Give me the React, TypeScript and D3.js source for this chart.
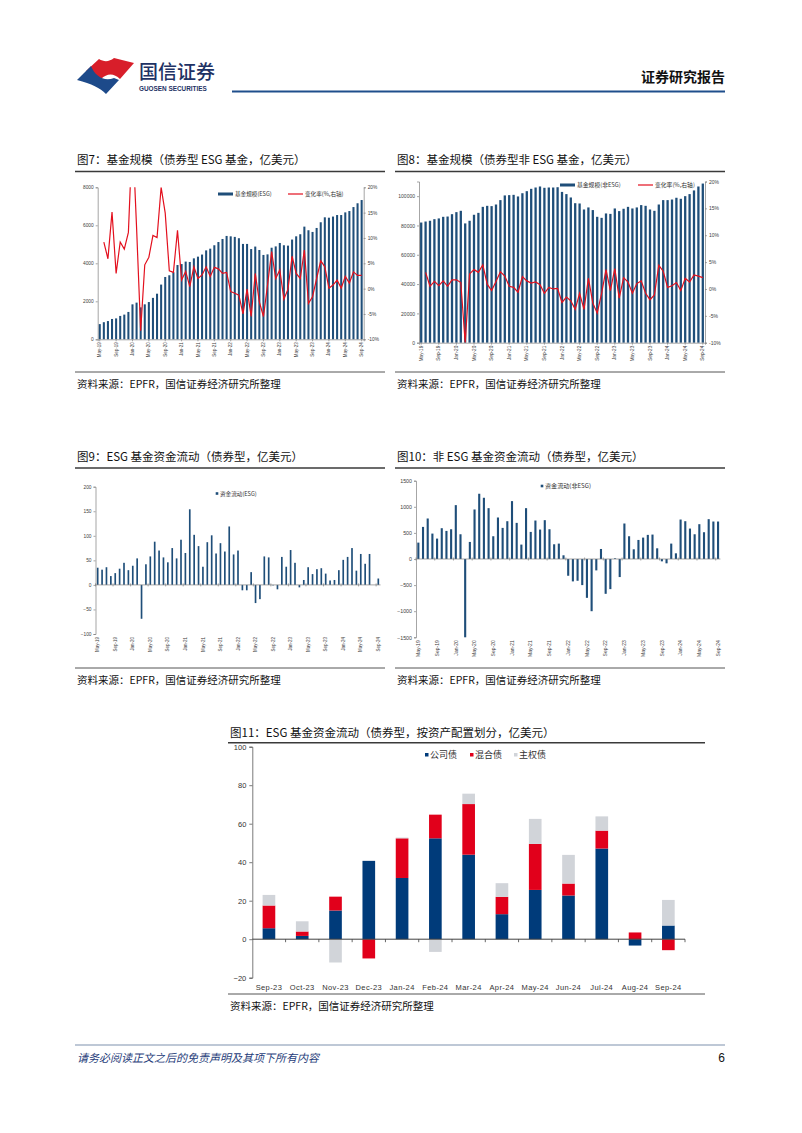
import React, { useEffect, useRef } from "react";
import * as d3 from "d3";

const CJK = "'Noto Sans CJK SC', 'Noto Sans', sans-serif";
const LAT = "'Liberation Sans', Arial, sans-serif";
const BLUE = "#1f4e79";
const RED = "#e3101e";

// months May-19 .. Sep-24
const months = d3.timeMonths(new Date(2019, 4, 1), new Date(2024, 9, 1)).map(d3.timeFormat("%b-%y"));
const tickMonths = months.filter((d, i) => i % 4 === 0);

// fig 7: ESG bond fund size (USD 100m) and change (%)
const esgSize = [
  800, 900, 960, 1070, 1100, 1230, 1300, 1440, 1840, 1930,
  1680, 1840, 1960, 2180, 2400, 2880, 3280, 3370, 3530, 3910,
  3960, 4090, 4070, 4260, 4350, 4460, 4680, 4770, 4950, 5120,
  5280, 5440, 5420, 5390, 5320, 5020, 5020, 4750, 4880, 4700,
  4440, 4470, 4820, 4890, 5070, 4950, 4930, 5250, 5420, 5530,
  5930, 5740, 5650, 5860, 6160, 6420, 6400, 6460, 6540, 6540,
  6680, 6750, 6960, 7160, 7330,
];
const esgChange = [
  null, 9.2, 5.9, 15.1, 3.0, 9.2, 7.8, 11.1, 31, 12,
  -8.3, 4.7, 6.2, 10.5, 10.1, 20, 14.9, 3.5, 3.2, 11.5,
  1.7, 3.4, 0.4, 4.3, 2.0, 2.7, 4.3, 2.4, 4.2, 3.9,
  3.0, 3.2, -0.6, -0.9, -1.3, -5.0, -0.1, -5.5, 3.0, -2.6,
  -5.5, 0.7, 7.3, 2.0, 3.7, -2.1, -0.1, 6.4, 3.0, 2.0,
  7.6, -2.9, -1.6, 2.0, 5.5, 4.3, 0.1, 0.7, 1.7, 0.1,
  2.4, 1.1, 3.3, 2.6, 2.6,
];

// fig 8: non-ESG bond fund size and change
const nonEsgSize = [
  82000, 82700, 83200, 84300, 84800, 85900, 86100, 87700, 89100, 90000,
  81400, 83200, 87300, 88600, 92700, 93400, 93200, 94300, 97300, 100500,
  100700, 100900, 99800, 102000, 103400, 105000, 105900, 106600, 105700, 105900,
  105900, 106100, 102900, 101400, 99100, 95200, 95000, 90900, 92300, 90500,
  85900, 85200, 88200, 87900, 91600, 89800, 91400, 92700, 91600, 92300,
  93900, 93400, 90900, 90000, 94300, 97300, 97300, 97700, 98900, 98200,
  100000, 101400, 103900, 106600, 108600,
];
const nonEsgChange = [
  null, 3.1, 0.5, 1.4, 0.6, 1.5, 0.5, 1.7, 1.7, 1.2,
  -10, 2.8, 3.6, 3.1, 4.5, 0.9, -0.3, 1.4, 3.2, 2.4,
  0.5, 0.3, -0.6, 2.3, 1.5, 1.1, 1.3, 0.8, -0.8, 0.3,
  0, 0.1, -2.5, -1.5, -2.2, -3.8, -0.8, -3.8, 2.0, -2.6,
  -4.5, -0.8, 3.6, -0.3, 3.8, -1.7, 2.1, 1.3, -0.8, 1.0,
  1.5, -0.8, -2.0, -1.1, 4.4, 3.3, 0.3, 0.6, 1.2, -0.3,
  2.0, 1.3, 2.6, 2.4, 2.1,
];

// fig 9 / 10: flows
const esgFlow = [
  35, 31, 36, 18, 24, 33, 45, 30, 39, 54,
  -69, 42, 58, 88, 70, 56, 46, 75, 54, 92,
  65, 154, 102, 79, 37, 87, 101, 64, 85, 68,
  119, 62, 70, -11, -11, 26, -37, -29, 58, 56,
  -1, -9, 57, 37, 71, 45, -5, 10, 36, 22,
  32, 34, 23, 9, 10, 30, 51, 57, 75, 29,
  63, 43, 63, 0, 13,
];
const nonEsgFlow = [
  314, 615, 776, 487, 391, 590, 538, 570, 1032, 474,
  -1500, 327, 949, 1250, 1173, 974, 436, 795, 596, 724,
  1109, 692, 276, 974, 519, 737, 564, 744, 570, 282,
  295, 71, -321, -429, -417, -500, -744, -1000, -218, 192,
  -667, -577, 13, -346, 680, 436, 186, 365, 410, 462,
  468, 205, -45, -83, 295, 109, 756, 724, 583, 474,
  667, 513, 763, 718, 718,
];

// fig 11: ESG flows by asset allocation
const cats11 = ["Sep-23", "Oct-23", "Nov-23", "Dec-23", "Jan-24", "Feb-24", "Mar-24", "Apr-24", "May-24", "Jun-24", "Jul-24", "Aug-24", "Sep-24"];
const corp = [5.7, 1.7, 14.9, 40.7, 31.8, 52.4, 43.9, 13, 25.6, 22.7, 47.1, -3.3, 7.1];
const mixed = [11.8, 2.3, 7.2, -10, 20.6, 12.3, 26.3, 9, 23.9, 6.2, 9.3, 3.5, -5.7];
const sov = [5.5, 5.3, -12.1, 0, 0.4, -6.6, 5.4, 7.1, 13, 14.9, 7.4, 0, 13.3];
const keys11 = ["公司债", "混合债", "主权债"];
const colors11 = ["#003b7a", "#e1001b", "#d1d4d9"];

function styleAxis(g, fs, color = "#404040") {
  g.select(".domain").attr("stroke", "#808080").attr("stroke-width", 0.7);
  g.selectAll(".tick line").attr("stroke", "#808080").attr("stroke-width", 0.7);
  g.selectAll(".tick text").attr("font-size", fs).attr("font-family", LAT).attr("fill", color);
}

function rotateLabels(g) {
  g.selectAll(".tick text")
    .attr("transform", "rotate(-90)")
    .attr("text-anchor", "end")
    .attr("x", -3)
    .attr("y", 0)
    .attr("dy", "0.35em");
}

function frame(svg, x1, x2, titleY, topLine, bottomLine, title) {
  svg.append("text").attr("x", x1 + 2).attr("y", titleY).attr("font-family", CJK)
    .attr("font-size", 11.5).attr("font-weight", 400).attr("fill", "#111").text(title);
  svg.append("line").attr("x1", x1).attr("x2", x2).attr("y1", topLine).attr("y2", topLine)
    .attr("stroke", "#3a3a3a").attr("stroke-width", 1.5);
  svg.append("line").attr("x1", x1).attr("x2", x2).attr("y1", bottomLine).attr("y2", bottomLine)
    .attr("stroke", "#555").attr("stroke-width", 1);
  svg.append("text").attr("x", x1 + 2).attr("y", bottomLine + 16).attr("font-family", CJK)
    .attr("font-size", 10.5).attr("fill", "#111").text("资料来源：EPFR，国信证券经济研究所整理");
}

function drawCombo(svg, o) {
  const x = d3.scaleBand().domain(months).range([o.left, o.right]).paddingInner(o.pad).paddingOuter(o.pad / 2);
  const yL = d3.scaleLinear().domain([0, o.max]).range([o.bottom, o.top]);
  const yR = d3.scaleLinear().domain([-10, 20]).range([o.bottom, o.top]);
  const g = svg.append("g");

  g.append("clipPath").attr("id", o.id).append("rect")
    .attr("x", o.left).attr("y", o.top).attr("width", o.right - o.left).attr("height", o.bottom - o.top);

  g.selectAll("rect.bar").data(o.size).join("rect").attr("class", "bar")
    .attr("x", (d, i) => x(months[i]))
    .attr("width", x.bandwidth())
    .attr("y", d => yL(d))
    .attr("height", d => yL(0) - yL(d))
    .attr("fill", BLUE);

  const line = d3.line()
    .defined(d => d != null)
    .x((d, i) => x(months[i]) + x.bandwidth() / 2)
    .y(d => yR(d));
  g.append("path").datum(o.change).attr("d", line).attr("fill", "none")
    .attr("stroke", RED).attr("stroke-width", 1.2).attr("clip-path", `url(#${o.id})`);

  const ax = g.append("g").attr("transform", `translate(${o.left},0)`)
    .call(d3.axisLeft(yL).tickValues(o.ticks).tickSize(2).tickPadding(2).tickFormat(d3.format("d")));
  styleAxis(ax, o.fs);
  const ar = g.append("g").attr("transform", `translate(${o.right},0)`)
    .call(d3.axisRight(yR).tickValues([-10, -5, 0, 5, 10, 15, 20]).tickSize(2).tickPadding(2).tickFormat(d => d + "%"));
  styleAxis(ar, o.fs);
  const ab = g.append("g").attr("transform", `translate(0,${o.bottom})`)
    .call(d3.axisBottom(x).tickValues(tickMonths).tickSize(2));
  styleAxis(ab, o.fs - 0.3);
  rotateLabels(ab);

  // legend
  g.append("rect").attr("x", o.lgX).attr("y", o.lgY - 1.5).attr("width", 15).attr("height", 3).attr("fill", BLUE);
  g.append("text").attr("x", o.lgX + 17).attr("y", o.lgY + 2).attr("font-size", o.fs + 0.8)
    .attr("font-family", CJK).attr("fill", "#333").text(o.lg1);
  g.append("line").attr("x1", o.lgX2).attr("x2", o.lgX2 + 15).attr("y1", o.lgY).attr("y2", o.lgY)
    .attr("stroke", RED).attr("stroke-width", 1.2);
  g.append("text").attr("x", o.lgX2 + 17).attr("y", o.lgY + 2).attr("font-size", o.fs + 0.8)
    .attr("font-family", CJK).attr("fill", "#333").text("变化率(%,右轴)");
}

function drawFlow(svg, o) {
  const x = d3.scaleBand().domain(months).range([o.left, o.right]).paddingInner(o.pad).paddingOuter(o.pad / 2);
  const y = d3.scaleLinear().domain([o.min, o.max]).range([o.bottom, o.top]);
  const g = svg.append("g");

  g.selectAll("rect.bar").data(o.values).join("rect").attr("class", "bar")
    .attr("x", (d, i) => x(months[i]))
    .attr("width", x.bandwidth())
    .attr("y", d => y(Math.max(0, d)))
    .attr("height", d => Math.abs(y(d) - y(0)))
    .attr("fill", BLUE);

  g.append("line").attr("x1", o.left).attr("x2", o.right).attr("y1", y(0)).attr("y2", y(0))
    .attr("stroke", "#808080").attr("stroke-width", 0.7);
  g.selectAll("line.zt").data(tickMonths).join("line").attr("class", "zt")
    .attr("x1", d => x(d) - x.step() * o.pad / 2).attr("x2", d => x(d) - x.step() * o.pad / 2)
    .attr("y1", y(0) - 1.5).attr("y2", y(0) + 1.5).attr("stroke", "#808080").attr("stroke-width", 0.7);

  const ax = g.append("g").attr("transform", `translate(${o.left},0)`)
    .call(d3.axisLeft(y).tickValues(o.ticks).tickSize(2).tickPadding(2).tickFormat(d3.format("d")));
  styleAxis(ax, o.fs);
  const ab = g.append("g").attr("transform", `translate(0,${o.bottom})`)
    .call(d3.axisBottom(x).tickValues(tickMonths).tickSize(0));
  styleAxis(ab, o.fs - 0.3);
  ab.select(".domain").remove();
  rotateLabels(ab);

  g.append("rect").attr("x", o.lgX - 1.3).attr("y", o.lgY - 1.3).attr("width", 2.6).attr("height", 2.6).attr("fill", BLUE);
  g.append("text").attr("x", o.lgX + 3).attr("y", o.lgY + 2).attr("font-size", o.fs + 0.8)
    .attr("font-family", CJK).attr("fill", "#333").text(o.lg);
}

function drawStacked(svg) {
  const left = 252.3, right = 685, top = 746.7, bottom = 977.7;
  const x = d3.scaleBand().domain(cats11).range([left, right]).paddingInner(0.62).paddingOuter(0.31);
  const y = d3.scaleLinear().domain([-20, 100]).range([bottom, top]);
  const rows = cats11.map((c, i) => ({ cat: c, 公司债: corp[i], 混合债: mixed[i], 主权债: sov[i] }));
  const series = d3.stack().keys(keys11).offset(d3.stackOffsetDiverging)(rows);
  const g = svg.append("g");

  g.selectAll("g.s").data(series).join("g").attr("class", "s")
    .attr("fill", (d, i) => colors11[i])
    .selectAll("rect").data(d => d).join("rect")
    .attr("x", d => x(d.data.cat))
    .attr("width", x.bandwidth())
    .attr("y", d => y(Math.max(d[0], d[1])))
    .attr("height", d => Math.abs(y(d[0]) - y(d[1])));

  const ax = g.append("g").attr("transform", `translate(${left},0)`)
    .call(d3.axisLeft(y).tickValues([-20, 0, 20, 40, 60, 80, 100]).tickSize(3).tickPadding(3));
  styleAxis(ax, 7.5, "#333");
  ax.select(".domain").attr("stroke", "#404040");
  ax.selectAll(".tick line").attr("stroke", "#404040");

  g.append("line").attr("x1", left).attr("x2", right).attr("y1", y(0)).attr("y2", y(0))
    .attr("stroke", "#404040").attr("stroke-width", 1);
  g.selectAll("line.bt").data(cats11).join("line").attr("class", "bt")
    .attr("x1", d => x(d) + x.bandwidth() + x.step() * 0.31).attr("x2", d => x(d) + x.bandwidth() + x.step() * 0.31)
    .attr("y1", y(0)).attr("y2", y(0) + 3).attr("stroke", "#404040").attr("stroke-width", 0.8);

  g.selectAll("text.xl").data(cats11).join("text").attr("class", "xl")
    .attr("x", d => x(d) + x.bandwidth() / 2).attr("y", 989.5)
    .attr("text-anchor", "middle").attr("font-size", 7.5).attr("font-family", LAT)
    .attr("letter-spacing", 0.4).attr("fill", "#333").text(d => d);

  const lgX = [425, 470, 514];
  keys11.forEach((k, i) => {
    g.append("rect").attr("x", lgX[i]).attr("y", 753).attr("width", 3.5).attr("height", 3.5).attr("fill", colors11[i]);
    g.append("text").attr("x", lgX[i] + 5).attr("y", 758).attr("font-size", 9).attr("font-family", CJK)
      .attr("fill", "#333").text(k);
  });
}

function drawPage(svg) {
  // header
  svg.append("path").attr("d", "M86,71 L99,59 C104,62 109,62 114,58 L134,63 L120,79 C114,73 107,73 101,79 Z").attr("fill", "#d81e2a");
  svg.append("path").attr("d", "M77,80 L91,66 C95,76 104,82 114,78 L119,80 L106,94 C100,88 92,84 77,80 Z").attr("fill", "#1d4a8a");
  svg.append("text").attr("x", 139).attr("y", 79).attr("font-family", CJK).attr("font-size", 19)
    .attr("font-weight", 500).attr("fill", "#1e3264").text("国信证券");
  svg.append("text").attr("x", 139).attr("y", 91).attr("font-family", LAT).attr("font-size", 6.4)
    .attr("font-weight", 700).attr("fill", "#1e3264").text("GUOSEN SECURITIES");
  svg.append("line").attr("x1", 232).attr("x2", 725).attr("y1", 91.5).attr("y2", 91.5)
    .attr("stroke", "#1f4e8c").attr("stroke-width", 2);
  svg.append("text").attr("x", 725).attr("y", 82).attr("text-anchor", "end").attr("font-family", CJK)
    .attr("font-size", 14).attr("font-weight", 700).attr("fill", "#111").text("证券研究报告");

  // footer
  svg.append("line").attr("x1", 75).attr("x2", 725).attr("y1", 1045).attr("y2", 1045)
    .attr("stroke", "#a9b6c8").attr("stroke-width", 1.5);
  svg.append("text").attr("x", 77).attr("y", 1062).attr("font-family", CJK).attr("font-size", 11)
    .attr("font-style", "italic").attr("fill", "#1f3d7a").text("请务必阅读正文之后的免责声明及其项下所有内容");
  svg.append("text").attr("x", 725).attr("y", 1062).attr("text-anchor", "end").attr("font-family", LAT)
    .attr("font-size", 12).attr("fill", "#111").text("6");

  frame(svg, 75, 385, 164, 171.5, 372, "图7：基金规模（债券型 ESG 基金，亿美元）");
  frame(svg, 395, 725, 164, 171.5, 372, "图8：基金规模（债券型非 ESG 基金，亿美元）");
  frame(svg, 75, 385, 461, 468, 668, "图9：ESG 基金资金流动（债券型，亿美元）");
  frame(svg, 395, 725, 461, 468, 668, "图10：非 ESG 基金资金流动（债券型，亿美元）");
  frame(svg, 228, 705, 737, 742.7, 994, "图11：ESG 基金资金流动（债券型，按资产配置划分，亿美元）");

  drawCombo(svg, {
    id: "clip7", left: 97.7, right: 363.7, top: 187.3, bottom: 339.3, max: 8000,
    ticks: [0, 2000, 4000, 6000, 8000], size: esgSize, change: esgChange, pad: 0.5, fs: 4.8,
    lgX: 218, lgX2: 288, lgY: 194, lg1: "基金规模(ESG)",
  });
  drawCombo(svg, {
    id: "clip8", left: 419, right: 705, top: 181.5, bottom: 342.7, max: 110000,
    ticks: [0, 20000, 40000, 60000, 80000, 100000], size: nonEsgSize, change: nonEsgChange, pad: 0.48, fs: 5,
    lgX: 560, lgX2: 638, lgY: 185, lg1: "基金规模(非ESG)",
  });
  drawFlow(svg, {
    left: 95.5, right: 380.5, top: 486.7, bottom: 634, min: -100, max: 200,
    ticks: [-100, -50, 0, 50, 100, 150, 200], values: esgFlow, pad: 0.62, fs: 4.8,
    lgX: 217, lgY: 493.5, lg: "资金流动(ESG)",
  });
  drawFlow(svg, {
    left: 416, right: 720.4, top: 480.7, bottom: 637.3, min: -1500, max: 1500,
    ticks: [-1500, -1000, -500, 0, 500, 1000, 1500], values: nonEsgFlow, pad: 0.55, fs: 5.3,
    lgX: 542, lgY: 486, lg: "资金流动(非ESG)",
  });
  drawStacked(svg);
}

export default function App() {
  const svgRef = useRef(null);

  useEffect(() => {
    const svg = d3.select(svgRef.current);
    svg.selectAll("*").remove();
    drawPage(svg);
  }, []);

  return (
    <svg ref={svgRef} width={802} height={1133}
      style={{ position: "absolute", left: 0, top: 0, background: "#fff" }} />
  );
}
